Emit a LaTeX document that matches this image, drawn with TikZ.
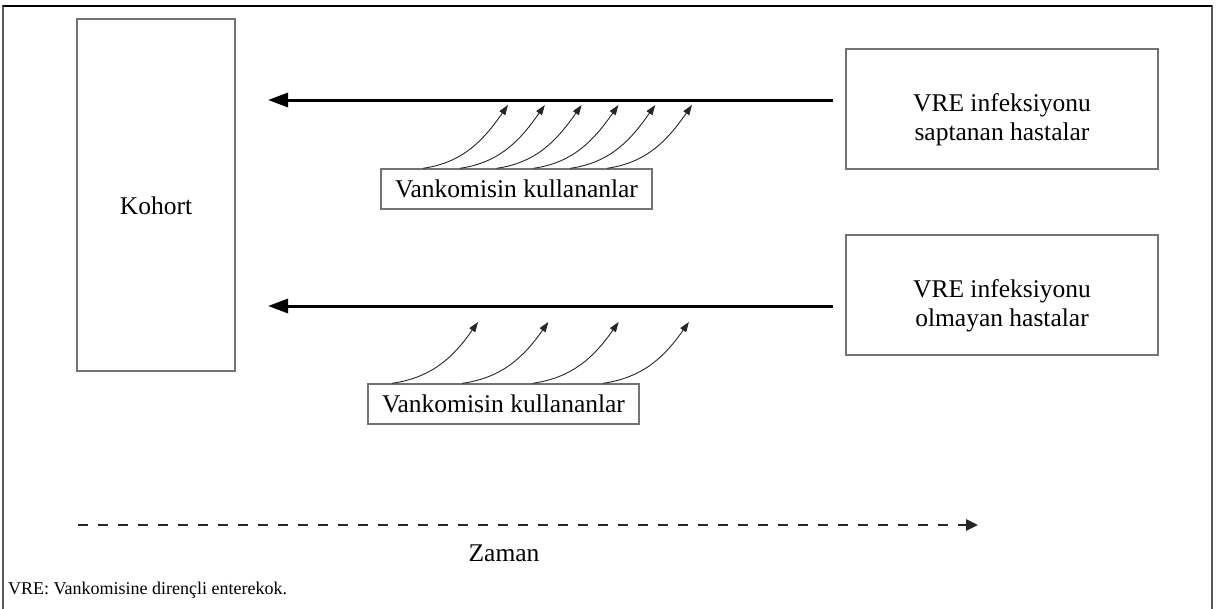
\documentclass[tikz,border=0pt]{standalone}
\usepackage{fontspec}
\setmainfont{Liberation Serif}
\usetikzlibrary{arrows.meta}
\begin{document}
\begin{tikzpicture}[x=1pt,y=1pt,
  frameline/.style={draw=black!65, line width=2pt},
  box/.style={draw=black!55, line width=1.4pt, fill=white, align=center, inner sep=0pt,
    font=\fontsize{25.5}{29}\selectfont},
  mainarrow/.style={line width=3pt, -{Triangle[length=20pt,width=14pt]}},
  usearrow/.style={line width=0.9pt, black!85, -{Triangle[length=10pt,width=7pt]}},
  timearrow/.style={line width=2.8pt, black!85, dash pattern=on 10pt off 10pt, -{Triangle[length=12pt,width=11pt]}},
  lbl/.style={font=\fontsize{25.5}{29}\selectfont, inner sep=0pt, align=center},
  note/.style={font=\fontsize{18}{22}\selectfont, inner sep=0pt, anchor=west}
]
\useasboundingbox (0,0) rectangle (1220,-608);
% frame
\draw[frameline] (3,-620) -- (3,-6) -- (1212,-6) -- (1212,-620);
\draw[black, line width=1.6pt] (3,-6) -- (1212,-6);

% boxes
\node[box, minimum width=158pt, minimum height=352pt] (kohort) at (156,-195) {};
\node[lbl] (kohortt) at ([yshift=-11pt]kohort.center) {Kohort};
\node[box, minimum width=312pt, minimum height=120pt] (vre1) at (1002,-109) {};
\node[lbl] (vre1t) at ([yshift=-11pt]vre1.center) {VRE infeksiyonu\\saptanan hastalar};
\node[box, minimum width=312pt, minimum height=120pt] (vre2) at (1002,-295) {};
\node[lbl] (vre2t) at ([yshift=-11pt]vre2.center) {VRE infeksiyonu\\olmayan hastalar};
\node[box, minimum width=271pt, minimum height=40pt] (v1) at (516.5,-189) {Vankomisin kullananlar};
\node[box, minimum width=271pt, minimum height=40pt] (v2) at (503.5,-404) {Vankomisin kullananlar};

% main arrows
\coordinate (a1s) at (833,-100);
\coordinate (a1e) at (268,-100);
\coordinate (a2s) at (833,-306);
\coordinate (a2e) at (268,-306);
\draw[mainarrow] (a1s) -- (a1e);
\draw[mainarrow] (a2s) -- (a2e);

% curved arrows, top
\foreach \i in {0,...,5} {
  \coordinate (t\i) at (508+36.8*\i,-105);
  \draw[usearrow] ([xshift={-93.5+36.8*\i}]v1.north) to[out=8,in=-125] (t\i);
}
% curved arrows, bottom
\foreach \i in {0,...,3} {
  \coordinate (b\i) at (478+70.3*\i,-322);
  \draw[usearrow] ([xshift={-111.5+70.3*\i}]v2.north) to[out=8,in=-125] (b\i);
}

% time axis
\coordinate (ts) at (78,-525);
\coordinate (te) at (978,-525);
\draw[timearrow] (ts) -- (te);
\node[lbl] (zaman) at (504,-553) {Zaman};
\node[note] (fn) at (8,-590) {VRE: Vankomisine dirençli enterekok.};
\end{tikzpicture}
\end{document}
